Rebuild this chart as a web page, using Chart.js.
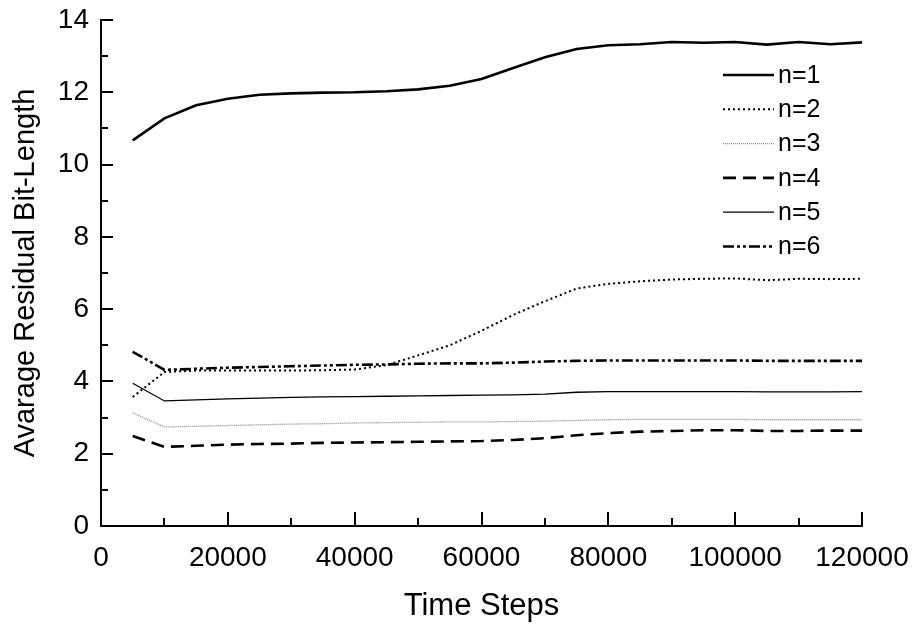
<!DOCTYPE html>
<html>
<head>
<meta charset="utf-8">
<script src="https://cdn.jsdelivr.net/npm/chart.js@4.4.1/dist/chart.umd.min.js"></script>
<style>
  html, body { margin: 0; padding: 0; background: #fff; }
  #wrap { width: 912px; height: 628px; }
</style>
</head>
<body>
<div id="wrap"><canvas id="myChart" width="912" height="628"></canvas></div>
<script>
// time steps (x)
const steps = [5000, 10000, 15000, 20000, 25000, 30000, 35000, 40000, 45000, 50000, 55000, 60000,
  65000, 70000, 75000, 80000, 85000, 90000, 95000, 100000, 105000, 110000, 115000, 120000];

// average residual bit-length per n
const n1 = [10.67, 11.28, 11.64, 11.82, 11.93, 11.97, 11.99, 12.0, 12.03, 12.08, 12.18, 12.37,
  12.67, 12.97, 13.2, 13.3, 13.33, 13.39, 13.37, 13.39, 13.32, 13.39, 13.33, 13.38];
const n2 = [3.57, 4.26, 4.3, 4.3, 4.3, 4.3, 4.31, 4.33, 4.45, 4.72, 5.0, 5.4,
  5.84, 6.22, 6.57, 6.7, 6.77, 6.82, 6.84, 6.85, 6.8, 6.84, 6.83, 6.84];
const n3 = [3.13, 2.74, 2.76, 2.78, 2.8, 2.82, 2.83, 2.85, 2.86, 2.87, 2.88, 2.88,
  2.89, 2.9, 2.92, 2.94, 2.95, 2.95, 2.95, 2.95, 2.94, 2.94, 2.94, 2.94];
const n4 = [2.49, 2.19, 2.22, 2.25, 2.27, 2.28, 2.3, 2.31, 2.32, 2.33, 2.34, 2.35,
  2.38, 2.43, 2.51, 2.57, 2.61, 2.63, 2.65, 2.65, 2.63, 2.63, 2.64, 2.64];
const n5 = [3.95, 3.46, 3.49, 3.52, 3.54, 3.56, 3.57, 3.58, 3.59, 3.6, 3.61, 3.62,
  3.63, 3.65, 3.7, 3.72, 3.72, 3.72, 3.72, 3.72, 3.71, 3.71, 3.71, 3.72];
const n6 = [4.82, 4.32, 4.35, 4.38, 4.4, 4.42, 4.44, 4.46, 4.47, 4.49, 4.5, 4.5,
  4.52, 4.55, 4.57, 4.58, 4.58, 4.58, 4.58, 4.58, 4.57, 4.57, 4.57, 4.57];

const seriesNames = ['n=1', 'n=2', 'n=3', 'n=4', 'n=5', 'n=6'];
const seriesData = [n1, n2, n3, n4, n5, n6];

const xMin = 0, xMax = 120000, xStep = 20000, xMinor = 10000;
const yMin = 0, yMax = 14, yStep = 2, yMinor = 1;

// line looks
const looks = [
  { color: '#000', width: 2.6, dash: [] },
  { color: '#000', width: 2, dash: [2, 3] },
  { color: '#8a8a8a', width: 1.3, dash: [1, 1] },
  { color: '#000', width: 2.6, dash: [13, 7] },
  { color: '#000', width: 1.3, dash: [] },
  { color: '#000', width: 2.6, dash: [11, 3, 3, 3, 3, 3] }
];

const datasets = seriesNames.map((name, i) => ({
  label: name,
  data: steps.map((s, j) => ({ x: s, y: seriesData[i][j] })),
  borderColor: looks[i].color,
  borderWidth: looks[i].width,
  borderDash: looks[i].dash,
  pointRadius: 0,
  fill: false,
  tension: 0
}));

// ticks drawn inward, longer on labelled values
const tickMarks = {
  id: 'tickMarks',
  afterDraw(chart) {
    const ctx = chart.ctx;
    const area = chart.chartArea;
    const x = chart.scales.x, y = chart.scales.y;
    ctx.save();
    ctx.strokeStyle = '#000';
    ctx.lineWidth = 2;
    ctx.beginPath();
    for (let v = yMin; v <= yMax; v += yMinor) {
      const py = Math.round(y.getPixelForValue(v));
      const len = v % yStep === 0 ? 12 : 7;
      ctx.moveTo(area.left, py);
      ctx.lineTo(area.left + len, py);
    }
    for (let v = xMin; v <= xMax; v += xMinor) {
      const px = Math.round(x.getPixelForValue(v));
      const len = v % xStep === 0 ? 14 : 8;
      ctx.moveTo(px, area.bottom);
      ctx.lineTo(px, area.bottom - len);
    }
    ctx.stroke();
    ctx.restore();
  }
};

// legend inside plot, line sample on the left of the text
const insideLegend = {
  id: 'insideLegend',
  afterDraw(chart) {
    const ctx = chart.ctx;
    ctx.save();
    ctx.font = '25px "Liberation Sans", Arial, sans-serif';
    ctx.textBaseline = 'middle';
    ctx.fillStyle = '#000';
    seriesNames.forEach((name, i) => {
      const yy = 75 + i * 34.3;
      ctx.strokeStyle = looks[i].color;
      ctx.lineWidth = looks[i].width;
      ctx.setLineDash(looks[i].dash);
      ctx.beginPath();
      ctx.moveTo(723, yy);
      ctx.lineTo(774, yy);
      ctx.stroke();
      ctx.fillText(name, 778, yy + 1);
    });
    ctx.restore();
  }
};

new Chart('myChart', {
  type: 'line',
  data: { datasets: datasets },
  options: {
    responsive: false,
    animation: false,
    layout: { padding: { left: 0, top: 20, right: 50, bottom: 0 } },
    plugins: {
      legend: { display: false },
      tooltip: { enabled: false }
    },
    scales: {
      x: {
        type: 'linear',
        min: xMin,
        max: xMax,
        afterFit: (s) => { s.height = 102; s.paddingLeft = 0; s.paddingRight = 0; },
        grid: { display: false, drawTicks: false },
        border: { display: true, color: '#000', width: 2 },
        ticks: {
          stepSize: xStep,
          maxRotation: 0,
          padding: 15,
          color: '#000',
          font: { family: '"Liberation Sans", Arial, sans-serif', size: 28 },
          callback: (v) => String(v)
        },
        title: {
          display: true,
          text: 'Time Steps',
          color: '#000',
          font: { family: '"Liberation Sans", Arial, sans-serif', size: 31 },
          padding: { top: 0, bottom: 3 }
        }
      },
      y: {
        min: yMin,
        max: yMax,
        afterFit: (s) => { s.width = 101; s.paddingTop = 0; s.paddingBottom = 0; },
        grid: { display: false, drawTicks: false },
        border: { display: true, color: '#000', width: 2 },
        ticks: {
          stepSize: yStep,
          padding: 12,
          color: '#000',
          font: { family: '"Liberation Sans", Arial, sans-serif', size: 28 }
        },
        title: {
          display: true,
          text: 'Avarage Residual Bit-Length',
          color: '#000',
          font: { family: '"Liberation Sans", Arial, sans-serif', size: 29 },
          padding: { top: 9, bottom: 0 }
        }
      }
    }
  },
  plugins: [tickMarks, insideLegend]
});
</script>
</body>
</html>
